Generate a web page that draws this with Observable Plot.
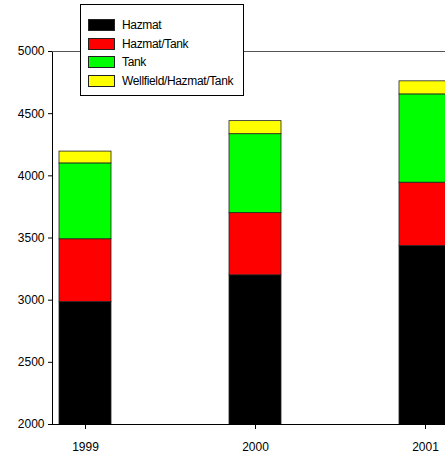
<!DOCTYPE html>
<html>
<head>
<meta charset="utf-8">
<script src="https://cdn.jsdelivr.net/npm/d3@7"></script>
<script src="https://cdn.jsdelivr.net/npm/@observablehq/plot@0.6"></script>
<style>
  html, body { margin: 0; padding: 0; background: white; overflow: hidden; }
  #wrap { position: relative; width: 445px; height: 454px; }
  #legend {
    position: absolute; left: 80px; top: 4px; width: 164px; height: 92px;
    border: 1px solid #000; background: #fff; box-sizing: border-box;
    font-family: Arial, "Liberation Sans", sans-serif; font-size: 12px; letter-spacing: -0.35px;
    padding-top: 11px;
  }
  .item { display: flex; align-items: center; height: 18.5px; }
  .sw { width: 25px; height: 10px; margin-left: 7px; margin-right: 7px; border: 1px solid #222; }
</style>
</head>
<body>
<div id="wrap"></div>
<script>
// Incident counts by year, split by permit category
const years = ["1999", "2000", "2001"];
const series = ["Hazmat", "Hazmat/Tank", "Tank", "Wellfield/Hazmat/Tank"];
const hazmat = [2985, 3200, 3435];
const hazmatTank = [505, 500, 510];
const tank = [610, 635, 710];
const wellfield = [95, 105, 105];
const colors = ["#000000", "#ff0000", "#00ff00", "#ffff00"];
const yTicks = [2000, 2500, 3000, 3500, 4000, 4500, 5000];

const valuesBySeries = [hazmat, hazmatTank, tank, wellfield];
const rows = [];
series.forEach((s, i) => {
  years.forEach((y, j) => rows.push({year: y, series: s, value: valuesBySeries[i][j]}));
});

const chart = Plot.plot({
  width: 445,
  height: 454,
  marginLeft: 52,
  marginRight: 0,
  marginTop: 51,
  marginBottom: 30,
  style: {fontFamily: "Arial, 'Liberation Sans', sans-serif", fontSize: "12px", background: "white", overflow: "hidden"},
  x: {type: "band", domain: years, range: [51.5, 459.5], paddingInner: 0.694, paddingOuter: 0.047,
      label: null, tickSize: 5, tickPadding: 13, line: true},
  y: {domain: [2000, 5000], ticks: yTicks, tickFormat: "d", label: null, tickSize: 4, tickPadding: 4, line: true},
  color: {domain: series, range: colors},
  marks: [
    Plot.barY(rows, {x: "year", y: "value", z: "series", fill: "series", stroke: "#222", strokeWidth: 0.8, clip: true}),
    Plot.ruleY([5000], {stroke: "#555"})
  ]
});

const wrap = document.getElementById("wrap");
wrap.appendChild(chart);

// Legend box overlaid at the top left
const legend = document.createElement("div");
legend.id = "legend";
series.forEach((s, i) => {
  const item = document.createElement("div");
  item.className = "item";
  const sw = document.createElement("span");
  sw.className = "sw";
  sw.style.background = colors[i];
  const label = document.createElement("span");
  label.textContent = s;
  item.appendChild(sw);
  item.appendChild(label);
  legend.appendChild(item);
});
wrap.appendChild(legend);
</script>
</body>
</html>
